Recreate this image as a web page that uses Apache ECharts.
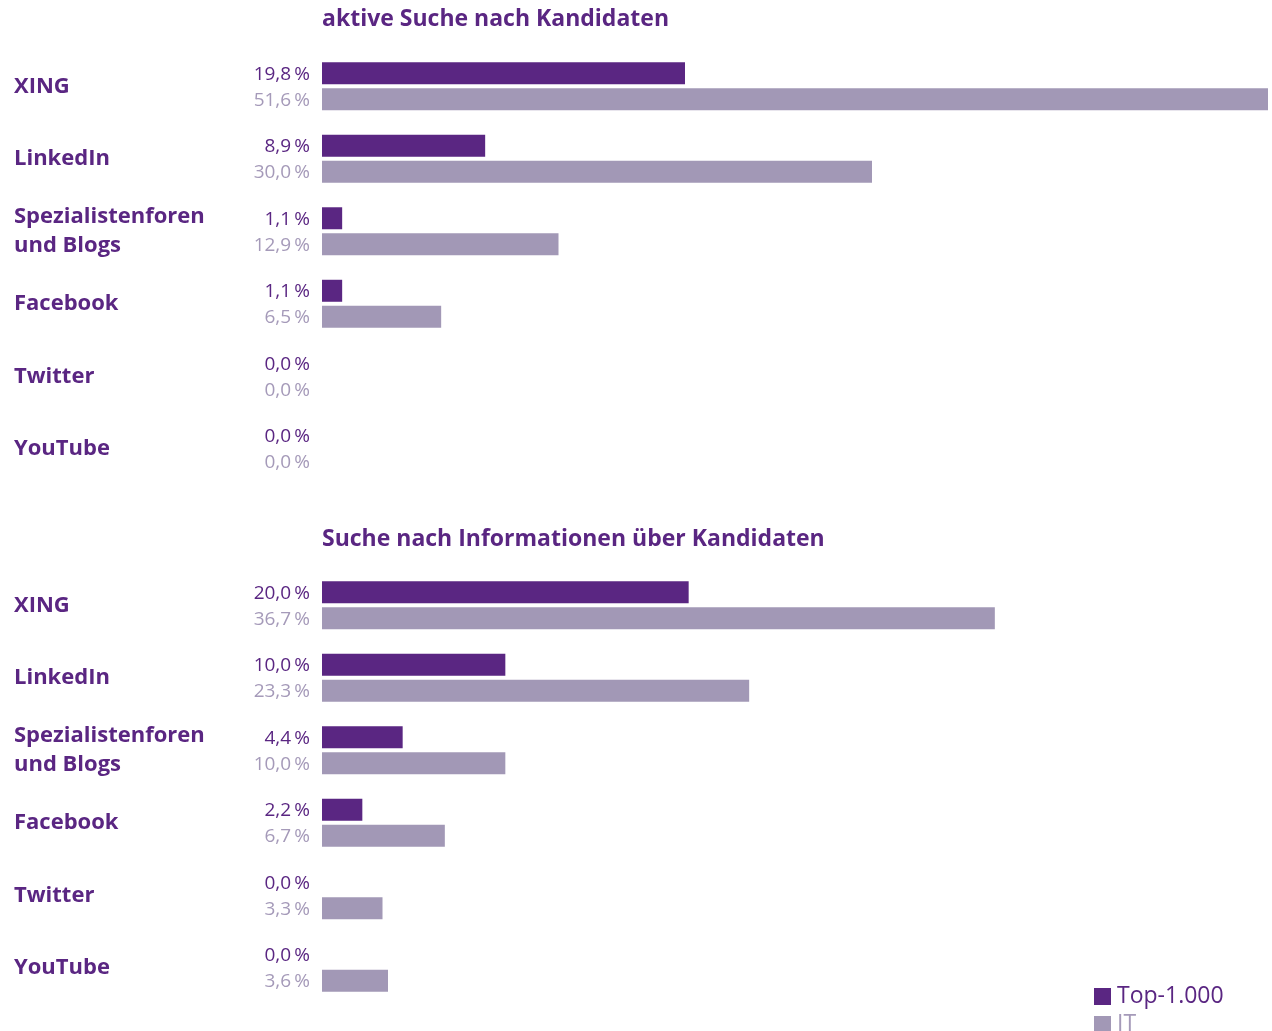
<!DOCTYPE html>
<html>
<head>
<meta charset="utf-8">
<title>Suche nach Kandidaten</title>
<script src="https://cdn.jsdelivr.net/npm/echarts@6/dist/echarts.min.js"></script>
<style>
  html, body { margin: 0; padding: 0; background: #fff; }
  #chart { width: 1272px; height: 1031px; }
</style>
</head>
<body>
<div id="chart"></div>
<script>
// Kategorien und Werte (in %)
const categories = ['XING', 'LinkedIn', 'Spezialistenforen\nund Blogs', 'Facebook', 'Twitter', 'YouTube'];
const topActive = [19.8, 8.9, 1.1, 1.1, 0.0, 0.0];
const itActive = [51.6, 30.0, 12.9, 6.5, 0.0, 0.0];
const topInfo = [20.0, 10.0, 4.4, 2.2, 0.0, 0.0];
const itInfo = [36.7, 23.3, 10.0, 6.7, 3.3, 3.6];
const panelTitles = ['aktive Suche nach Kandidaten', 'Suche nach Informationen über Kandidaten'];
const seriesNames = ['Top-1.000', 'IT'];

const dark = '#5a2682';
const light = '#a298b6';
const lightText = '#a59ab9';
const font = '"Open Sans", Lato, sans-serif';

const fmt = v => v.toFixed(1).replace('.', ',') + '\u2009%';

const chart = echarts.init(document.getElementById('chart'));

const grids = [
  { left: 322, width: 946, top: 50, height: 435 },
  { left: 322, width: 946, top: 569, height: 435 }
];

const makeSeries = (name, data, idx, color, textColor) => ({
  name: name,
  type: 'bar',
  xAxisIndex: idx,
  yAxisIndex: idx,
  data: data,
  barWidth: 22,
  barGap: '18%',
  itemStyle: { color: color },
  label: {
    show: true,
    position: 'left',
    distance: 12,
    offset: [0, 1],
    formatter: p => fmt(p.value),
    color: textColor,
    fontFamily: font,
    fontSize: 19
  },
  emphasis: { disabled: true }
});

// eine Legende pro Eintrag, untereinander
const legendItem = (name, color, top) => ({
  left: 1094,
  top: top,
  padding: 0,
  itemWidth: 17,
  itemHeight: 17,
  itemGap: 0,
  icon: 'rect',
  data: [name],
  textStyle: { color: color, fontSize: 23, fontFamily: font, padding: [0, 0, 0, 1] }
});

const option = {
  animation: false,
  textStyle: { fontFamily: font },
  title: panelTitles.map((t, i) => ({
    text: t,
    left: 322,
    top: i === 0 ? 8 : 528,
    padding: 0,
    textStyle: { color: dark, fontSize: 23, fontWeight: 'bold', fontFamily: font }
  })),
  legend: [
    legendItem(seriesNames[0], dark, 985),
    legendItem(seriesNames[1], lightText, 1013)
  ],
  grid: grids,
  xAxis: grids.map((g, i) => ({
    type: 'value',
    gridIndex: i,
    min: 0,
    max: 51.6,
    show: false
  })),
  yAxis: grids.map((g, i) => ({
    type: 'category',
    gridIndex: i,
    inverse: true,
    data: categories,
    axisLine: { show: false },
    axisTick: { show: false },
    splitLine: { show: false },
    axisLabel: {
      align: 'left',
      margin: 308,
      color: dark,
      fontSize: 22,
      fontWeight: 'bold',
      lineHeight: 29,
      fontFamily: font
    }
  })),
  series: [
    makeSeries(seriesNames[0], topActive, 0, dark, dark),
    makeSeries(seriesNames[1], itActive, 0, light, lightText),
    makeSeries(seriesNames[0], topInfo, 1, dark, dark),
    makeSeries(seriesNames[1], itInfo, 1, light, lightText)
  ]
};

chart.setOption(option);
</script>
</body>
</html>
